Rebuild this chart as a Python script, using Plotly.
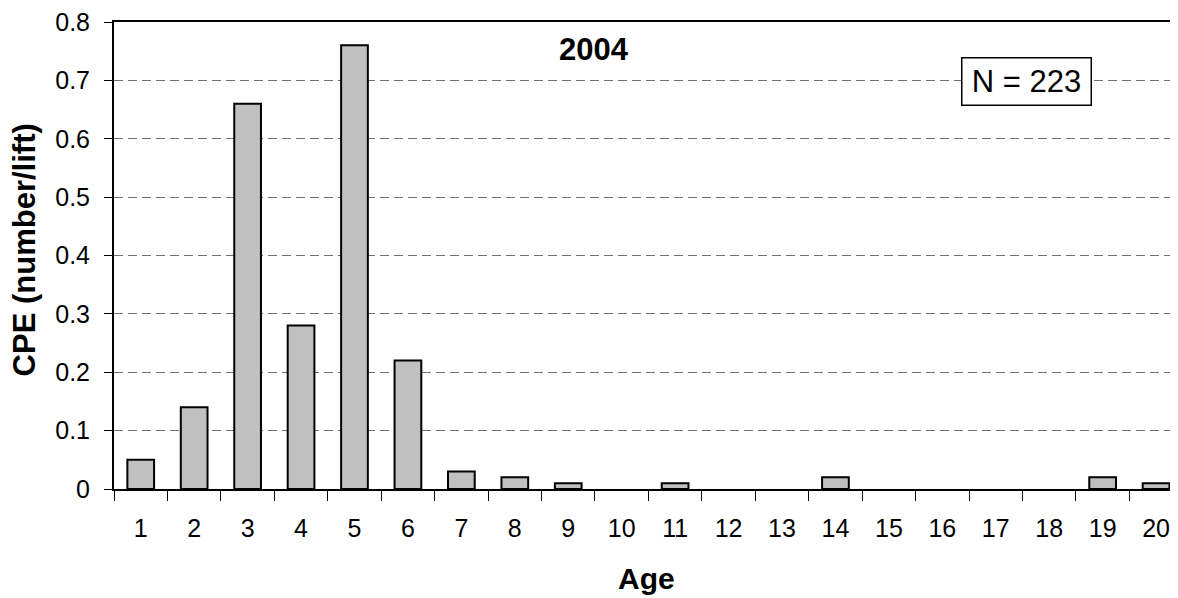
import plotly.graph_objects as go

ages = [str(a) for a in range(1, 21)]
cpe = [0.05, 0.14, 0.66, 0.28, 0.76, 0.22, 0.03, 0.02, 0.01, 0.0,
       0.01, 0.0, 0.0, 0.02, 0.0, 0.0, 0.0, 0.0, 0.02, 0.01]
y_ticks = [0, 0.1, 0.2, 0.3, 0.4, 0.5, 0.6, 0.7, 0.8]
y_ticktext = ["0", "0.1", "0.2", "0.3", "0.4", "0.5", "0.6", "0.7", "0.8"]
year_label = "2004"
n_label = "N = 223"

font = "Liberation Sans, Arial, sans-serif"

# empty ages get no outline, so nothing sits on the axis
outline = [2 if v > 0 else 0 for v in cpe]

fig = go.Figure(go.Bar(
    x=ages, y=cpe,
    marker=dict(color="#c0c0c0", line=dict(color="black", width=outline)),
))

# the page body has an 8px margin, so the figure sits 8px right/down;
# the right end of the plot runs past the window like in the original
fig.update_layout(
    width=1178, height=598,
    margin=dict(l=106, r=0, t=10, b=117),
    plot_bgcolor="white", paper_bgcolor="white",
    bargap=0.5,
    showlegend=False,
    font=dict(family=font, size=25, color="black"),
)

fig.update_xaxes(
    type="category",
    range=[-0.5, 19.56],
    tickson="boundaries",
    ticks="outside", ticklen=10, tickwidth=1, tickcolor="black",
    showline=True, linecolor="black", linewidth=2, mirror=True,
    showgrid=False,
    ticklabelstandoff=16,
    ticklabeloverflow="allow",
)
fig.update_yaxes(
    range=[0, 0.8],
    tickvals=y_ticks, ticktext=y_ticktext,
    ticks="outside", ticklen=8, tickcolor="black",
    showline=True, linecolor="black", linewidth=2,
    showgrid=True, gridcolor="#707070", griddash="9px,5px", gridwidth=1,
    zeroline=False,
    ticklabelstandoff=9,
    ticklabeloverflow="allow",
)

fig.add_annotation(
    text="<b>CPE (number/lift)</b>", xref="paper", yref="paper",
    x=-0.0835, y=0.512, textangle=-90, showarrow=False,
    xanchor="center", yanchor="middle", font=dict(size=31),
)
fig.add_annotation(
    text="<b>Age</b>", xref="paper", yref="paper",
    x=0.4963, y=-0.191, showarrow=False,
    xanchor="center", yanchor="middle", font=dict(size=30),
)
fig.add_annotation(
    text="<b>" + year_label + "</b>", xref="paper", yref="paper",
    x=0.4478, y=0.9406, showarrow=False,
    xanchor="center", yanchor="middle", font=dict(size=31),
)
fig.add_annotation(
    text=n_label, xref="paper", yref="paper",
    x=0.8512, y=0.8726, showarrow=False,
    xanchor="center", yanchor="middle", font=dict(size=31),
    width=122, height=40,
    bordercolor="black", borderwidth=1.5, borderpad=3, bgcolor="white",
)

fig.write_html("out.html")
